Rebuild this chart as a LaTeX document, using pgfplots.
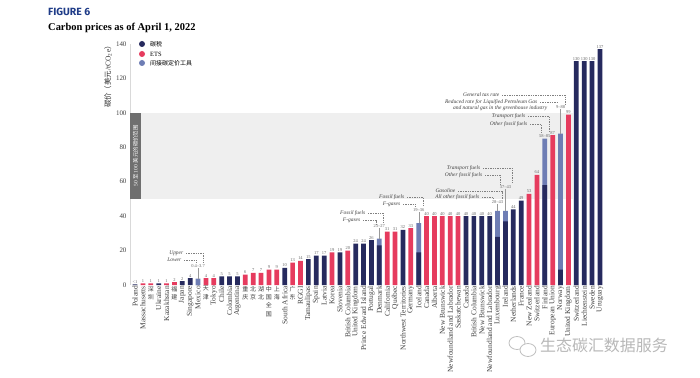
\documentclass[border=0pt]{standalone}
\usepackage{fontspec}
\setmainfont{Liberation Serif}
\newfontfamily\cjk{Noto Sans CJK SC}
\newfontfamily\headsans{Fira Sans}
\usepackage{pgfplots}
\usepackage{pgfplotstable}
\pgfplotsset{compat=1.18}

\definecolor{navy}{HTML}{262A5E}
\definecolor{etsred}{HTML}{E63B5E}
\definecolor{indblue}{HTML}{6E7DB4}
\definecolor{band}{HTML}{EFEFEF}
\definecolor{boxgray}{HTML}{6F6F6F}
\definecolor{titleblue}{HTML}{1F3C88}

\newcommand{\zh}[1]{\rotatebox{-90}{\cjk\fontsize{6}{6}\selectfont\shortstack{#1}}}

\pgfplotstableread{
x y lab
0 0.3 {<1}
3 1 1
6 2.3 2
7 4 4
11 5 5
12 5 5
13 5 5
19 10 10
22 15 15
23 17 17
24 17 17
26 19 19
28 24 24
29 24 24
30 26 26
34 32 32
42 40 40
43 40 40
44 40 40
45 40 40
48 44 44
49 49 49
56 130 130
57 130 130
58 130 130
59 137 137
}\navytab

\pgfplotstableread{
x y lab
1 1 1
2 1 1
4 1 1
5 1.6 2
9 4 4
10 4 4
14 6 6
15 7 7
16 7 7
17 9 9
18 9 9
20 13 13
21 14 14
25 19 19
27 20 20
32 31 31
33 31 31
35 33 33
37 40 40
38 40 40
39 40 40
40 40 40
41 40 40
50 53 53
51 64 64
53 87 87
55 99 99
}\redtab

\pgfplotstableread{
x top low
8 3.7 0
31 27 23
36 36 19
46 43 28
47 43 37
52 85 58
54 88 9
}\rangetab

\tikzset{
  vlab/.style={font=\fontsize{4.5}{5}\selectfont, text=black!60, inner sep=0.5pt},
  ann/.style={font=\fontsize{5.5}{6}\selectfont\itshape, text=black!75, inner sep=0.5pt, anchor=east},
  dsh/.style={draw=black!50, line width=0.35pt, dash pattern=on 1.4pt off 1pt},
  rline/.style={draw=black!40, line width=0.4pt},
}

\begin{document}
\begin{tikzpicture}
\useasboundingbox (0,0) rectangle (700bp,378bp);
\fill[white] (0,0) rectangle (700bp,378bp);

\begin{axis}[
  at={(130bp,93bp)}, anchor=south west, scale only axis,
  width=475bp, height=241bp,
  xmin=-0.635, xmax=59.64, ymin=0, ymax=140,
  clip=false,
  axis lines*=left,
  x axis line style={draw=none},
  y axis line style={draw=black!15, line width=0.6pt},
  tick style={draw=none},
  ytick={0,20,...,140},
  yticklabel style={font=\fontsize{7}{8}\selectfont, text=black!75},
  /pgf/number format/assume math mode=true,
  xtick={0,...,59},
  xticklabels={Poland, Massachusetts, \zh{深\\圳}, Ukraine, Kazakhstan, \zh{福\\建}, Japan, Singapore, Mexico, \zh{天\\津}, Tokyo, Chile, Colombia, Argentina, \zh{重\\庆}, \zh{北\\京}, \zh{湖\\北}, \zh{中\\国\\全\\国}, \zh{上\\海}, South Africa, \zh{广\\东}, RGGI, Tamaulipas, Spain, Latvia, Korea, Slovenia, British Columbia, United Kingdom, Prince Edward Island, Portugal, Denmark, California, Québec, Northwest Territories, Germany, Iceland, Canada, Alberta, New Brunswick, Newfoundland and Labrador, Saskatchewan, Canada, British Columbia, New Brunswick, Newfoundland and Labrador, Luxembourg, Ireland, Netherlands, France, New Zealand, Switzerland, Finland, European Union, Norway, United Kingdom, Switzerland, Liechtenstein, Sweden, Uruguay},
  xticklabel style={rotate=90, anchor=east, font=\fontsize{7.5}{7.5}\selectfont, text=black!75, inner sep=1pt},
  every node near coord/.append style={font=\fontsize{4.5}{5}\selectfont, text=black!60, inner sep=0.8pt},
]
% band of 50-100
\fill[band] (axis cs:-0.635,50) rectangle (axis cs:55.6,100);
\fill[boxgray] (axis cs:-0.635,50) rectangle (axis cs:0.76,100);
\node[rotate=90, text=white, font=\fontsize{5.5}{6}\selectfont] at (axis cs:0.06,75) {50 {\cjk 至} 100 {\cjk 美元的碳价范围}};

\addplot[ybar, bar width=0.6, bar shift=0pt, fill=navy, draw=none,
  nodes near coords, point meta=explicit symbolic] table[x=x,y=y,meta=lab]{\navytab};
\addplot[ybar, bar width=0.6, bar shift=0pt, fill=etsred, draw=none,
  nodes near coords, point meta=explicit symbolic] table[x=x,y=y,meta=lab]{\redtab};
\addplot[ybar, bar width=0.6, bar shift=0pt, fill=indblue, draw=none] table[x=x,y=top]{\rangetab};
\addplot[ybar, bar width=0.6, bar shift=0pt, fill=navy, draw=none] table[x=x,y=low]{\rangetab};

% range labels
\draw[rline] (axis cs:8,3.7) -- (axis cs:8,9.9);
\node[vlab] at (axis cs:8,11) {0.4–3.7};
\draw[rline] (axis cs:31,27) -- (axis cs:31,32.9);
\node[vlab] at (axis cs:31,34) {23–27};
\draw[rline] (axis cs:36,36) -- (axis cs:36,42.5);
\node[vlab] at (axis cs:36,43.6) {19–36};
\draw[rline] (axis cs:46,43) -- (axis cs:46,47.1);
\node[vlab] at (axis cs:46,48.2) {28–43};
\draw[rline] (axis cs:47,43) -- (axis cs:47,55.9);
\node[vlab] at (axis cs:47,57) {37–43};
\node[vlab] at (axis cs:52,86.6) {58–85};
\draw[rline] (axis cs:54,88) -- (axis cs:54,102.3);
\node[vlab] at (axis cs:54,103.4) {9–88};
\end{axis}

\begin{scope}[x=1bp, y=-1bp, shift={(0bp,378bp)}]
% titles
\node[anchor=base west, inner sep=0, text=titleblue, font=\headsans\bfseries\fontsize{10.5}{12}\selectfont] at (48,16) {FIGURE 6};
\node[anchor=base west, inner sep=0, font=\bfseries\fontsize{10.5}{12}\selectfont] at (48,31) {Carbon prices as of April 1, 2022};
% y axis title
\node[rotate=90, anchor=east, inner sep=0, font=\fontsize{7.5}{8}\selectfont, text=black!80] at (108,42) {{\cjk 碳价（美元}/tCO\textsubscript{2}e{\cjk ）}};
% legend
\fill[navy] (142,44) circle (3);
\fill[etsred] (142,54) circle (3);
\fill[indblue] (142,63) circle (3);
\node[anchor=west, inner sep=0, font=\cjk\fontsize{6}{7}\selectfont] at (150,44) {碳税};
\node[anchor=west, inner sep=0, font=\fontsize{6.5}{7}\selectfont] at (150,54) {ETS};
\node[anchor=west, inner sep=0, font=\cjk\fontsize{6}{7}\selectfont] at (150,63) {间接碳定价工具};
% annotations: Mexico
\node[ann] at (184,253) {Upper};
\node[ann] at (182,260) {Lower};
\draw[dsh] (186,253) -| (203,263);
\draw[dsh] (184,260) -| (196,263);
% Denmark
\node[ann] at (366,213) {Fossil fuels};
\node[ann] at (361,220) {F-gases};
\draw[dsh] (368,213) -| (383,224);
\draw[dsh] (363,220) -| (376,224);
% Iceland
\node[ann] at (405,197) {Fossil fuels};
\node[ann] at (401,204) {F-gases};
\draw[dsh] (407,197) -| (423,207);
\draw[dsh] (403,204) -| (415,207);
% Luxembourg
\node[ann] at (456,191) {Gasoline};
\node[ann] at (480,197) {All other fossil fuels};
\draw[dsh] (458,191) -| (502,199);
\draw[dsh] (482,197) -| (493,199);
% Ireland
\node[ann] at (481,168) {Transport fuels};
\node[ann] at (483,175) {Other fossil fuels};
\draw[dsh] (483,168) -| (512,184);
\draw[dsh] (485,175) -| (500,184);
% Finland
\node[ann] at (526,116) {Transport fuels};
\node[ann] at (528,124) {Other fossil fuels};
\draw[dsh] (528,116) -| (549,133);
\draw[dsh] (530,124) -| (541,133);
% Norway
\node[ann] at (500,95) {General tax rate};
\node[ann] at (538,102) {Reduced rate for Liquified Petroleum Gas};
\node[ann] at (548,108) {and natural gas in the greenhouse industry};
\draw[dsh] (502,95) -| (565,104);
\draw[dsh] (540,102) -| (557,104);
% watermark
\draw[black!25, line width=0.8pt] (517,343) ellipse (8 and 6.5);
\fill[white] (528,350) ellipse (8 and 6.5);
\draw[black!25, line width=0.8pt] (528,350) ellipse (8 and 6.5);
\node[anchor=west, inner sep=0, text=black!28, font=\cjk\fontsize{16}{16}\selectfont] at (540,345) {生态碳汇数据服务};
\end{scope}
\end{tikzpicture}
\end{document}
